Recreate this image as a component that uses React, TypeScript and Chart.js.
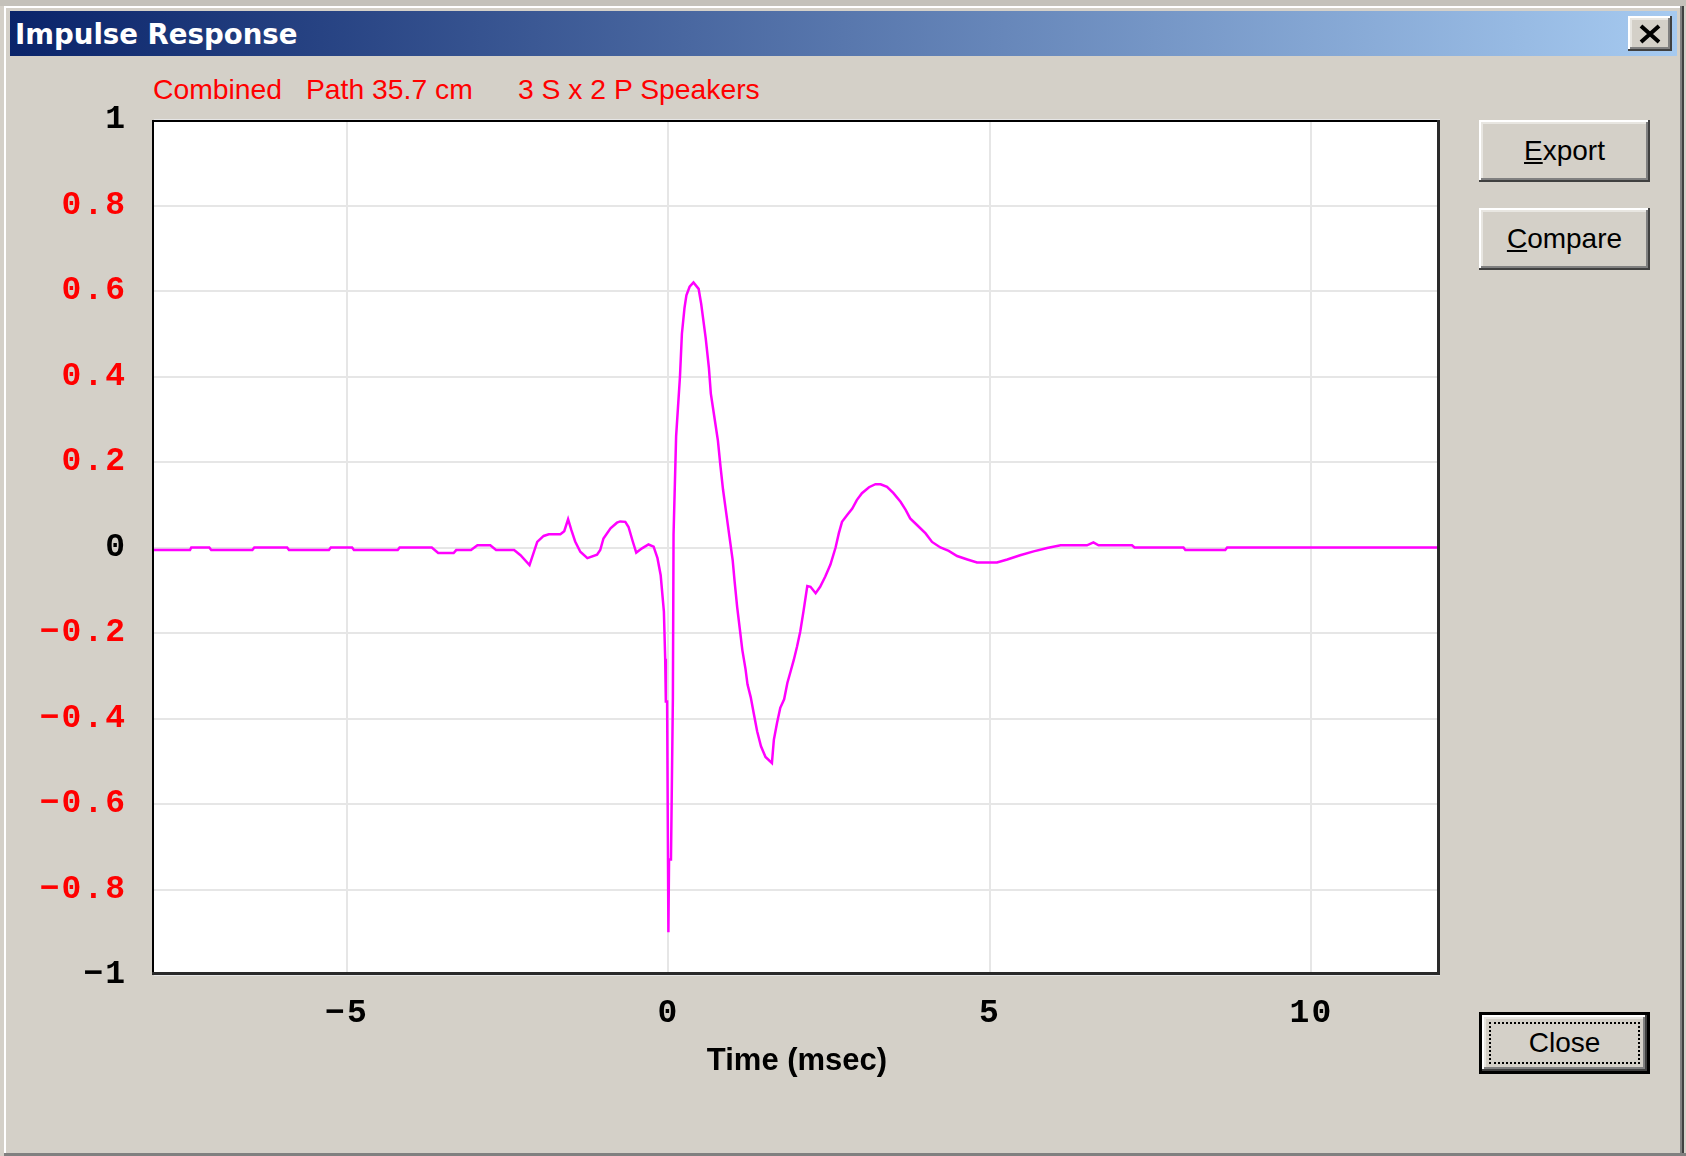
import React, { useEffect, useRef } from "react";
import { Chart, registerables } from "chart.js";

Chart.register(...registerables);

// ---------- data ----------
const TIME_MS = [
  -8.0, -7.44, -7.42, -7.14, -7.11, -6.47, -6.44, -5.93, -5.9, -5.28, -5.25, -4.92, -4.89, -4.21, -4.18, -3.68,
  -3.58, -3.34, -3.3, -3.07, -2.97, -2.77, -2.68, -2.4, -2.3, -2.16, -2.04, -1.94, -1.86, -1.68, -1.62, -1.56,
  -1.51, -1.45, -1.37, -1.26, -1.11, -1.06, -1.01, -0.9, -0.8, -0.75, -0.67, -0.62, -0.56, -0.5, -0.41, -0.31,
  -0.23, -0.17, -0.12, -0.07, -0.05, -0.04, -0.02, 0.0, 0.01, 0.04, 0.07, 0.08, 0.12, 0.18, 0.21, 0.25, 0.28,
  0.33, 0.39, 0.47, 0.51, 0.58, 0.63, 0.66, 0.72, 0.77, 0.81, 0.85, 0.9, 0.95, 1.0, 1.03, 1.07, 1.11, 1.15, 1.2,
  1.23, 1.28, 1.33, 1.38, 1.44, 1.51, 1.61, 1.64, 1.69, 1.74, 1.8, 1.85, 1.9, 1.95, 2.0, 2.05, 2.1, 2.16, 2.21,
  2.29, 2.36, 2.44, 2.52, 2.6, 2.65, 2.7, 2.78, 2.86, 2.93, 3.01, 3.12, 3.22, 3.3, 3.4, 3.5, 3.61, 3.69, 3.76,
  3.87, 4.0, 4.1, 4.23, 4.36, 4.49, 4.65, 4.8, 5.11, 5.27, 5.47, 5.68, 5.89, 6.1, 6.51, 6.61, 6.69, 7.21, 7.25,
  8.01, 8.04, 8.66, 8.69, 12.0,
];
const AMPLITUDE = [
  -0.006, -0.006, 0.0, 0.0, -0.006, -0.006, 0.0, 0.0, -0.006, -0.006, 0.0, 0.0, -0.006, -0.006, 0.0, 0.0,
  -0.013, -0.013, -0.006, -0.006, 0.005, 0.005, -0.006, -0.006, -0.018, -0.041, 0.013, 0.027, 0.031, 0.031, 0.038, 0.066,
  0.041, 0.014, -0.01, -0.025, -0.017, -0.006, 0.021, 0.045, 0.058, 0.061, 0.06, 0.048, 0.017, -0.012, -0.002, 0.007,
  0.002, -0.025, -0.065, -0.15, -0.26, -0.36, -0.36, -0.9, -0.73, -0.73, -0.35, 0.03, 0.26, 0.4, 0.5, 0.56, 0.59,
  0.61, 0.62, 0.605, 0.57, 0.49, 0.42, 0.36, 0.3, 0.25, 0.19, 0.135, 0.08, 0.025, -0.03, -0.08, -0.14, -0.19, -0.24, -0.285,
  -0.32, -0.35, -0.39, -0.43, -0.465, -0.49, -0.504, -0.45, -0.41, -0.375, -0.355, -0.317, -0.29, -0.263, -0.232, -0.197, -0.15, -0.09, -0.092,
  -0.107, -0.092, -0.068, -0.04, 0.0, 0.033, 0.06, 0.076, 0.091, 0.111, 0.127, 0.141, 0.148, 0.148, 0.142, 0.127, 0.107, 0.088, 0.068,
  0.052, 0.033, 0.013, 0.0, -0.008, -0.02, -0.028, -0.035, -0.035, -0.028, -0.018, -0.009, -0.001, 0.005, 0.005, 0.012, 0.005, 0.005, 0.0,
  0.0, -0.006, -0.006, 0.0, 0.0,
];
const X_TICKS = [-5, 0, 5, 10];
const Y_TICKS = [-1, -0.8, -0.6, -0.4, -0.2, 0, 0.2, 0.4, 0.6, 0.8, 1];
const BLACK_Y_LABELS = [-1, 0, 1];
const X_MIN = -8;
const X_MAX = 12;
const Y_MIN = -1;
const Y_MAX = 1;
const WINDOW_TITLE = "Impulse Response";
const SUBTITLES = ["Combined", "Path 35.7 cm", "3 S x 2 P Speakers"];
const X_AXIS_TITLE = "Time (msec)";

// ---------- layout ----------
const W = 1686;
const H = 1156;
const AREA = { left: 154, top: 120, right: 1440, bottom: 975 };
const SUB_X = [153, 306, 518];

const MINUS = "\u2212";
const fmtY = (v: number) => {
  const r = Math.round(v * 10) / 10;
  if (r === 0) return "0";
  const a = Math.abs(r);
  const s = a === 1 ? "1" : a.toFixed(1);
  return r < 0 ? MINUS + s : s;
};
const fmtX = (v: number) => {
  const r = Math.round(v);
  return r < 0 ? MINUS + Math.abs(r) : String(r);
};

const framePlugin = {
  id: "frame",
  beforeDraw(chart: any) {
    const { ctx, chartArea: a } = chart;
    // spaced-out bitmap-like tick labels
    Object.values(chart.scales).forEach((s: any) => {
      if (s.__spaced) return;
      const orig = s.drawLabels;
      s.drawLabels = function (area: any) {
        const c = this.ctx;
        const prev = c.letterSpacing;
        c.letterSpacing = "2px";
        orig.call(this, area);
        c.letterSpacing = prev || "0px";
      };
      s.__spaced = true;
    });
    ctx.save();
    ctx.fillStyle = "#FFFFFF";
    ctx.fillRect(a.left, a.top, a.right - a.left, a.bottom - a.top);
    ctx.restore();
  },
  afterDraw(chart: any) {
    const { ctx, chartArea: a } = chart;
    ctx.save();
    ctx.fillStyle = "#000000";
    ctx.fillRect(a.left - 2, a.top, 2, a.bottom - a.top);
    ctx.fillRect(a.left - 2, a.top, a.right - a.left + 2, 2);
    ctx.fillStyle = "#2A2A2A";
    ctx.fillRect(a.right - 3, a.top, 3, a.bottom - a.top);
    ctx.fillRect(a.left - 2, a.bottom - 3, a.right - a.left + 2, 3);
    ctx.restore();
  },
};

const tickFont = { family: "'Liberation Mono', 'DejaVu Sans Mono', monospace", size: 33, weight: "bold" as const };

const btnBase: React.CSSProperties = {
  position: "absolute",
  background: "#D4D0C8",
  boxShadow:
    "inset -2px -2px 0 #404040, inset 2px 2px 0 #FFFFFF, inset -4px -4px 0 #808080, inset 4px 4px 0 #E8E6E1",
  display: "flex",
  alignItems: "center",
  justifyContent: "center",
  fontFamily: "'Liberation Sans', Arial, sans-serif",
  fontSize: 28,
  color: "#000",
  boxSizing: "border-box",
};

export default function App() {
  const canvasRef = useRef<HTMLCanvasElement | null>(null);

  useEffect(() => {
    const canvas = canvasRef.current;
    if (!canvas) return;
    const points = TIME_MS.map((t, i) => ({ x: t, y: AMPLITUDE[i] }));
    const chart = new Chart(canvas, {
      type: "line",
      data: {
        datasets: [
          {
            data: points,
            borderColor: "#FF00FF",
            borderWidth: 2.5,
            pointRadius: 0,
            tension: 0,
            fill: false,
          },
        ],
      },
      options: {
        animation: false,
        responsive: false,
        devicePixelRatio: 1,
        events: [],
        layout: { padding: { left: 0, top: AREA.top, right: W - AREA.right, bottom: 0 } },
        plugins: { legend: { display: false }, tooltip: { enabled: false }, title: { display: false } },
        scales: {
          x: {
            type: "linear",
            position: "bottom",
            min: X_MIN,
            max: X_MAX,
            afterBuildTicks: (s: any) => {
              s.ticks = X_TICKS.map((v) => ({ value: v }));
            },
            afterFit: (s: any) => {
              s.height = H - AREA.bottom;
            },
            grid: { color: "#E6E6E6", lineWidth: 2, drawTicks: false },
            border: { display: false },
            ticks: {
              padding: 19,
              color: "#000000",
              font: tickFont,
              maxRotation: 0,
              autoSkip: false,
              callback: (v: any) => fmtX(Number(v)),
            },
            title: {
              display: true,
              text: X_AXIS_TITLE,
              color: "#000000",
              font: { family: "'Liberation Sans', Arial, sans-serif", size: 31, weight: "bold" },
              padding: { top: 0, bottom: 76 },
            },
          },
          y: {
            type: "linear",
            position: "left",
            min: Y_MIN,
            max: Y_MAX,
            afterBuildTicks: (s: any) => {
              s.ticks = Y_TICKS.map((v) => ({ value: v }));
            },
            afterFit: (s: any) => {
              s.width = AREA.left;
            },
            grid: { color: "#E6E6E6", lineWidth: 2, drawTicks: false },
            border: { display: false },
            ticks: {
              padding: 27,
              font: tickFont,
              autoSkip: false,
              color: (c: any) =>
                BLACK_Y_LABELS.includes(Math.round(c.tick.value * 10) / 10) ? "#000000" : "#FF0000",
              callback: (v: any) => fmtY(Number(v)),
            },
          },
        },
      },
      plugins: [framePlugin],
    } as any);
    return () => chart.destroy();
  }, []);

  return (
    <div
      style={{
        position: "absolute",
        left: 0,
        top: 0,
        width: W,
        height: H,
        overflow: "hidden",
        background: "#D4D0C8",
        fontFamily: "'Liberation Sans', Arial, sans-serif",
      }}
    >
      {/* background window strip and window edges */}
      <div style={{ position: "absolute", left: 0, top: 0, width: W, height: 6, background: "#C4C1BA" }} />
      <div style={{ position: "absolute", left: 4, top: 6, width: W - 8, height: 2, background: "#FFFFFF" }} />
      <div style={{ position: "absolute", left: 4, top: 6, width: 2, height: H - 6, background: "#FFFFFF" }} />
      <div style={{ position: "absolute", left: W - 6, top: 6, width: 2, height: H - 6, background: "#808080" }} />
      <div style={{ position: "absolute", left: W - 4, top: 6, width: 2, height: H - 6, background: "#404040" }} />
      <div style={{ position: "absolute", left: 4, top: H - 3, width: W - 4, height: 3, background: "#808080" }} />

      {/* title bar */}
      <div
        style={{
          position: "absolute",
          left: 10,
          top: 11,
          width: 1667,
          height: 45,
          background: "linear-gradient(to right, #0A246A, #A6CAF0)",
        }}
      />
      <div
        style={{
          position: "absolute",
          left: 15,
          top: 21,
          fontFamily: "'DejaVu Sans', Verdana, sans-serif",
          fontWeight: "bold",
          fontSize: 27.6,
          lineHeight: "27px",
          color: "#FFFFFF",
          whiteSpace: "nowrap",
        }}
      >
        {WINDOW_TITLE}
      </div>
      <div style={{ ...btnBase, left: 1628, top: 16, width: 44, height: 35 }}>
        <svg width="24" height="20" viewBox="0 0 24 20">
          <path d="M3 2 L21 18 M21 2 L3 18" stroke="#000" strokeWidth="4" />
        </svg>
      </div>

      {/* red subtitle */}
      {SUBTITLES.map((s, i) => (
        <div
          key={i}
          style={{
            position: "absolute",
            left: SUB_X[i],
            top: 75,
            fontSize: 28.3,
            lineHeight: "28px",
            color: "#FF0000",
            whiteSpace: "nowrap",
          }}
        >
          {s}
        </div>
      ))}

      {/* chart */}
      <canvas
        ref={canvasRef}
        width={W}
        height={H}
        style={{ position: "absolute", left: 0, top: 0, width: W, height: H, pointerEvents: "none" }}
      />

      {/* buttons */}
      <div style={{ ...btnBase, left: 1479, top: 120, width: 171, height: 62 }}>
        <span>
          <u>E</u>xport
        </span>
      </div>
      <div style={{ ...btnBase, left: 1479, top: 208, width: 171, height: 62 }}>
        <span>
          <u>C</u>ompare
        </span>
      </div>
      <div
        style={{
          ...btnBase,
          left: 1479,
          top: 1012,
          width: 171,
          height: 62,
          border: "3px solid #000",
        }}
      >
        <div
          style={{
            position: "absolute",
            left: 7,
            top: 7,
            right: 7,
            bottom: 7,
            border: "2px dotted #000",
          }}
        />
        <span>Close</span>
      </div>
    </div>
  );
}
